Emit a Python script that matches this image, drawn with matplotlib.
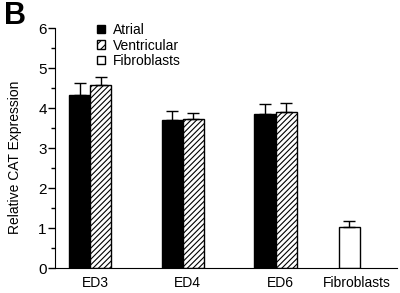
import matplotlib.pyplot as plt
import numpy as np
from matplotlib.patches import Patch
from matplotlib.ticker import MultipleLocator
from matplotlib.transforms import ScaledTranslation

plt.rcParams['font.family'] = ['Liberation Sans', 'DejaVu Sans']
plt.rcParams['hatch.linewidth'] = 0.8

groups = ['ED3', 'ED4', 'ED6']
atrial = [4.33, 3.70, 3.85]
atrial_err = [0.30, 0.22, 0.25]
ventricular = [4.57, 3.72, 3.90]
ventricular_err = [0.21, 0.17, 0.22]
fibro = [1.02]
fibro_err = [0.15]
xlabels = ['ED3', 'ED4', 'ED6', 'Fibroblasts']

fig = plt.figure(figsize=(4, 2.93), dpi=100)
ax = fig.add_axes([0.1375, 0.085, 0.855, 0.819])

x = np.arange(len(groups))
w = 0.227
ekw = dict(capsize=4.5, elinewidth=1, capthick=1, ecolor='black')
ax.bar(x - w / 2, atrial, w, color='black', edgecolor='black', linewidth=1,
       yerr=[np.zeros(3), atrial_err], error_kw=ekw)
ax.bar(x + w / 2, ventricular, w, color='white', edgecolor='black', linewidth=1,
       hatch='//////', yerr=[np.zeros(3), ventricular_err], error_kw=ekw)
xf = 2.795
ax.bar([xf], fibro, w, color='white', edgecolor='black', linewidth=1,
       yerr=[[0], fibro_err], error_kw=ekw)

ax.set_xlim(-0.378, 3.31)
ax.set_ylim(0, 6)
ax.set_xticks(list(x) + [xf])
ax.set_xticklabels(xlabels, fontsize=10)
ax.tick_params(axis='x', length=0, pad=6)
# labels sit a few px right of the bar centres in the original
for i, lab in enumerate(ax.get_xticklabels()):
    dx = 5 if i < 3 else 8
    lab.set_transform(lab.get_transform() + ScaledTranslation(dx / 100, 0, fig.dpi_scale_trans))
ax.yaxis.set_major_locator(MultipleLocator(1))
ax.yaxis.set_minor_locator(MultipleLocator(0.5))
ax.tick_params(axis='y', which='major', length=5, width=1, labelsize=11, pad=1)
ax.tick_params(axis='y', which='minor', length=3, width=1)
ax.spines['top'].set_visible(False)
ax.spines['right'].set_visible(False)
ax.set_ylabel('Relative CAT Expression', fontsize=10)
ax.yaxis.set_label_coords(-0.097, 0.4625)

handles = [Patch(facecolor='black', edgecolor='black'),
           Patch(facecolor='white', edgecolor='black', hatch='////'),
           Patch(facecolor='white', edgecolor='black')]
ax.legend(handles, ['Atrial', 'Ventricular', 'Fibroblasts'], loc='upper left',
          bbox_to_anchor=(0.108, 1.045), frameon=False, fontsize=10,
          handlelength=0.55, handleheight=0.55, handletextpad=0.55,
          labelspacing=0.12, borderaxespad=0)

fig.text(0.01, 0.995, 'B', fontsize=22, fontweight='bold', va='top', ha='left')

fig.savefig('out.png', dpi=100)
